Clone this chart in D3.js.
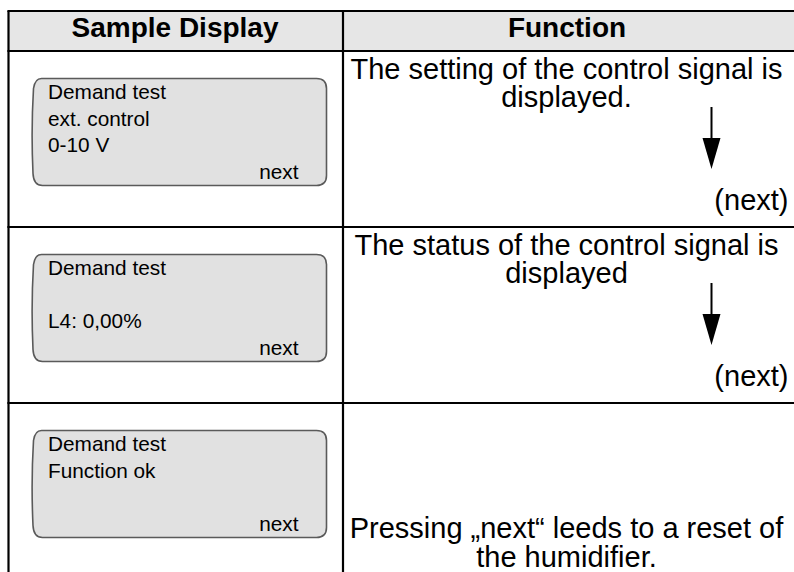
<!DOCTYPE html>
<html>
<head>
<meta charset="utf-8">
<script src="https://cdn.jsdelivr.net/npm/d3@7"></script>
<style>
  html, body { margin: 0; padding: 0; background: #ffffff; }
  svg { display: block; }
  text { font-family: "Liberation Sans", Arial, Helvetica, sans-serif; fill: #000; }
</style>
</head>
<body>
<svg id="chart" width="794" height="572"></svg>
<script>
// ---- data ----
const headers = ["Sample Display", "Function"];
const displayLines = [
  ["Demand test", "ext. control", "0-10 V"],
  ["Demand test", "", "L4: 0,00%"],
  ["Demand test", "Function ok", ""]
];
const displayButton = ["next", "next", "next"];
const functionText = [
  ["The setting of the control signal is", "displayed."],
  ["The status of the control signal is", "displayed"],
  ["Pressing \u201Enext\u201C leeds to a reset of", "the humidifier."]
];
const functionAlign = ["top", "top", "bottom"];
const nextLabels = ["(next)", "(next)", ""];
const hasArrow = [true, true, false];

// ---- layout ----
const W = 794, H = 572;
const svg = d3.select("#chart");

const tableLeft = 8.5, tableRight = 796, tableTop = 11, headerBottom = 51;
const rowH = 176;
const nRows = displayLines.length;

const x = d3.scaleOrdinal().domain([0, 1, 2]).range([tableLeft, 343, tableRight]);
const colCenter = [175, 567];
const y = d3.scaleLinear().domain([0, nRows]).range([headerBottom, headerBottom + rowH * nRows]);

// header background
svg.append("rect")
  .attr("x", tableLeft).attr("y", tableTop)
  .attr("width", tableRight - tableLeft).attr("height", headerBottom - tableTop)
  .attr("fill", "#e6e6e6");

// header texts
svg.selectAll("text.hdr").data(headers).join("text")
  .attr("class", "hdr")
  .attr("x", (d, i) => colCenter[i]).attr("y", 37)
  .attr("text-anchor", "middle")
  .style("font-size", "28px").style("font-weight", "bold")
  .text(d => d);

// grid lines
const gridG = svg.append("g").attr("stroke", "#000").attr("stroke-width", 2.2).attr("fill", "none");
const hLines = [tableTop].concat(d3.range(0, nRows).map(i => y(i)));
gridG.selectAll("line.h").data(hLines).join("line")
  .attr("x1", tableLeft - 1.1).attr("x2", tableRight)
  .attr("y1", d => d).attr("y2", d => d);
gridG.selectAll("line.v").data([0, 1, 2]).join("line")
  .attr("x1", d => x(d)).attr("x2", d => x(d))
  .attr("y1", tableTop).attr("y2", H + 5);

// display boxes
const boxL = 32.5, boxR = 326.5, boxH = 107, boxOff = 27.5;
function boxPath(top) {
  const l = boxL, r = boxR, t = top, b = top + boxH;
  const rr = 10;
  return [
    "M", l + 9, t,
    "L", r - rr, t,
    "Q", r, t, r, t + rr,
    "L", r, b - rr,
    "Q", r, b, r - rr, b,
    "L", l + rr, b,
    "Q", l + 1, b, l + 0.5, b - 12,
    "C", l - 0.8, b - 40, l - 0.8, t + 40, l + 1, t + 10,
    "Q", l + 2.5, t, l + 9, t,
    "Z"
  ].join(" ");
}
const rowsG = svg.selectAll("g.row").data(displayLines).join("g").attr("class", "row");

rowsG.append("path")
  .attr("d", (d, i) => boxPath(y(i) + boxOff))
  .attr("fill", "#e1e1e1")
  .attr("stroke", "#5a5a5a")
  .attr("stroke-width", 1.6);

rowsG.each(function (lines, i) {
  const g = d3.select(this);
  const top = y(i) + boxOff;
  g.selectAll("text.dl").data(lines).join("text")
    .attr("class", "dl")
    .attr("x", 48)
    .attr("y", (d, k) => top + 20.5 + k * 26.5)
    .style("font-size", "20.8px")
    .text(d => d);
  g.append("text")
    .attr("x", 298.5).attr("y", top + 100)
    .attr("text-anchor", "end")
    .style("font-size", "20.8px")
    .text(displayButton[i]);

  // function column text
  const ft = functionText[i];
  const rowTop = y(i);
  const base = functionAlign[i] === "top" ? rowTop + 27.5 : rowTop + 135;
  g.selectAll("text.ft").data(ft).join("text")
    .attr("class", "ft")
    .attr("x", 566.5)
    .attr("y", (d, k) => base + k * 28.5)
    .attr("text-anchor", "middle")
    .style("font-size", "29px")
    .text(d => d);

  if (nextLabels[i]) {
    g.append("text")
      .attr("x", 788.5).attr("y", rowTop + 159)
      .attr("text-anchor", "end")
      .style("font-size", "29px")
      .text(nextLabels[i]);
  }
  if (hasArrow[i]) {
    const ax = 711.5, at = rowTop + 56, tip = rowTop + 118;
    g.append("line")
      .attr("x1", ax).attr("x2", ax)
      .attr("y1", at).attr("y2", tip - 25)
      .attr("stroke", "#000").attr("stroke-width", 2);
    g.append("path")
      .attr("d", `M${ax - 9},${tip - 31} L${ax + 9},${tip - 31} L${ax},${tip} Z`)
      .attr("fill", "#000");
  }
});
</script>
</body>
</html>
